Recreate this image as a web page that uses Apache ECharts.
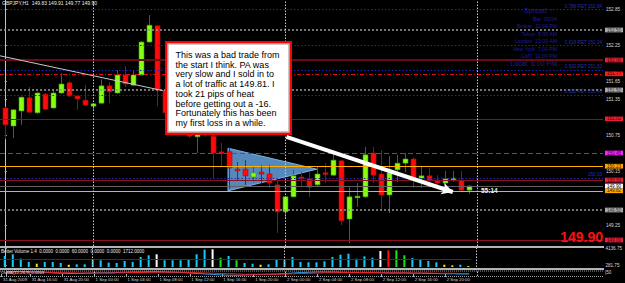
<!DOCTYPE html>
<html><head><meta charset="utf-8">
<script src="https://cdn.jsdelivr.net/npm/echarts@6/dist/echarts.min.js"></script>
<style>html,body{margin:0;padding:0;background:#000;}#c{width:625px;height:283px;}</style>
</head><body><div id="c"></div>
<script>
// ---------------- DATA ----------------
const header = 'GBPJPY,H1  149.83 149.91 149.77 149.90';
// hourly bars starting 31 Aug 2009 13:00 (index 0)
const opens  = [151.20,150.90,151.15,151.37,151.12,151.43,151.20,151.45,151.62,151.40,151.33,151.23,151.28,151.57,151.45,151.75,151.58,151.75,152.30,152.57,151.50,151.12,150.95,151.05,150.72,150.85,150.73,150.47,150.47,150.18,150.18,150.05,150.13,150.10,149.92,149.47,149.72,150.05,150.02,149.92,150.12,150.08,150.32,149.35,149.71,149.72,150.45,150.10,149.75,150.17,150.28,150.35,150.03,150.07,150.00,149.95,150.02,150.00,149.83];
const highs  = [151.22,151.18,151.39,151.55,151.46,151.45,151.52,151.78,151.65,151.41,151.58,151.28,151.68,151.63,151.83,151.90,151.82,152.31,152.75,152.58,151.52,151.18,151.10,151.08,150.88,150.90,150.76,150.62,150.53,150.30,150.33,150.22,150.25,150.25,150.00,149.73,150.17,150.13,150.13,150.22,150.28,150.45,150.33,149.88,149.95,150.55,150.55,150.50,150.40,150.42,150.45,150.38,150.22,150.20,150.08,150.15,150.15,150.15,149.91];
const lows   = [150.68,150.70,150.92,151.12,151.10,151.17,151.19,151.44,151.38,151.17,151.24,151.17,151.27,151.28,151.44,151.55,151.57,151.74,152.29,151.23,151.05,150.90,150.85,150.70,150.45,150.72,150.03,150.22,149.85,150.00,149.92,149.97,149.95,149.87,149.12,149.37,149.71,149.88,149.72,149.90,149.95,150.07,149.25,148.95,149.55,149.70,149.95,149.50,149.45,149.97,150.13,149.87,149.87,149.87,149.87,149.93,149.97,149.82,149.77];
const closes = [150.92,151.17,151.38,151.13,151.45,151.18,151.45,151.60,151.40,151.35,151.25,151.27,151.57,151.47,151.75,151.60,151.75,152.30,152.58,151.50,151.12,150.95,151.05,150.73,150.85,150.76,150.45,150.44,150.20,150.17,150.07,150.12,150.10,149.95,149.47,149.72,150.07,150.03,149.88,150.10,150.10,150.33,149.32,149.72,149.73,150.42,150.08,149.75,150.12,150.28,150.35,150.00,150.07,150.00,149.95,150.02,150.03,149.83,149.90];
const volumes = [2400,2770,1830,1090,720,1090,1090,870,500,590,590,1590,1460,940,870,1310,1090,2180,2550,2770,1460,1460,1460,1590,2770,3770,3860,2030,2400,1460,870,720,500,590,1590,1460,2180,1090,1020,1020,1240,2180,2680,2900,1810,2330,2030,3490,3640,3640,2550,1960,1590,1310,1020,500,370,500,220];
// Better Volume bar classes: n normal, l low, c climax, r climax-down, h churn
const volClass = ['n','n','n','n','l','n','n','n','l','n','n','n','n','n','n','n','n','n','n','c','n','n','n','n','n','n','c','h','n','h','n','n','l','n','n','n','n','n','n','n','n','n','n','n','n','n','n','c','r','h','h','n','n','n','n','l','l','n','l'];
const volAverage = 1712;
const volumeTitle = 'Better Volume 1.4  0.0000  0.0000  60.0000  0.0000  0.0000  1712.0000';
const volumeTicks = [4136.75, 281.75];
const osmaMain   = [0.10,0.10,0.10,0.09,0.08,0.06,0.04,0.03,0.02,0.02,0.03,0.04,0.05,0.05,0.06,0.07,0.08,0.08,0.09,0.09,0.08,0.07,0.06,0.04,0.02,0.00,-0.02,-0.04,-0.05,-0.05,-0.04,-0.03,-0.02,-0.01,0.00,0.02,0.04,0.06,0.07,0.08,0.08,0.08,0.07,0.06,0.06,0.05,0.05,0.05,0.04,0.04,0.04,0.03,0.03,0.02,0.02,0.01,0.01,0.00,0.00];
const osmaSignal = [0.08,0.08,0.08,0.08,0.08,0.07,0.06,0.05,0.05,0.04,0.04,0.04,0.04,0.04,0.05,0.05,0.06,0.06,0.07,0.07,0.07,0.07,0.07,0.06,0.05,0.04,0.03,0.02,0.01,0.00,-0.01,-0.01,-0.01,-0.01,-0.01,0.00,0.01,0.02,0.03,0.04,0.05,0.05,0.06,0.06,0.06,0.06,0.06,0.05,0.05,0.05,0.05,0.04,0.04,0.04,0.03,0.03,0.03,0.02,0.02];
const osmaTitle = 'OsMA(12,26,9) 0.0201';
const osmaTicks = [0.05];
// price-scale labels that are not hidden behind a level box
const priceTicks = [152.85,152.25,151.65,151.35,150.75,150.15,149.25];
const timeTickIdx  = [-0.6,3,7,11,15,19,23,27,31,35,39,43,47,51,55];
const timeTickText = ['31 Aug 2009','31 Aug 16:00','31 Aug 20:00','1 Sep 00:00','1 Sep 04:00','1 Sep 08:00','1 Sep 12:00','1 Sep 16:00','1 Sep 20:00','2 Sep 00:00','2 Sep 04:00','2 Sep 08:00','2 Sep 12:00','2 Sep 16:00','2 Sep 20:00'];
const daySeparators = [11,35,59];
// levels
const fibPrices = [152.84,152.24,151.83,151.42];
const fibNames  = ['0.786 RET 152.84','0.618 RET 152.24','0.500 RET 151.83','0.382 RET 151.42'];
const extraBluePrice = 150.03;
const grayLevels   = [152.50,151.50,149.50];
const redLevels    = [152.00,151.02,150.00,149.00];
const dailyH1      = 151.77;
const dailyPivot   = 150.45;
const orangeLevels = [150.23,149.82];
const bidPrice     = 149.90;
const trendLine    = [[-0.6,152.07],[19.75,151.49]];
const arrowLine    = [[35.2,150.72],[56.0,149.80]];
const triangle     = [[27.9,150.53],[27.9,149.82],[39.0,150.18]];
const barTimer = '55:14';
const noteLines = ['This was a bad trade from','the start I think. PA was','very slow and I sold in to','a lot of traffic at 149.81. I','took 21 pips of heat','before getting out a -16.','Fortunately this has been','my first loss in a while.'];
const infoRows = [['Bar','00:04'],['Broker','11:04 PM'],['Tokyo','8:00 AM'],['London','12:00 AM'],['New York','7:00 PM'],['GMT','11:00 PM']];
const infoSpread = ['Spread','7'];
const infoLocal = ['Local','6:00 PM'];

// ---------------- CHART ----------------
const XMIN = -0.6, XMAX = -0.6 + 603/8;
const FONT = 'Liberation Sans, Arial, sans-serif';
const volColors = {n:'#1ec8f5', l:'#f0e020', c:'#ffffff', r:'#ff1010', h:'#20e020'};
const candleData = opens.map((o,i)=>[i,o,closes[i],lows[i],highs[i]]);
const boxLabel = (bg, fg) => ({show:true, position:'end', distance:2, formatter: p=>p.value.toFixed(2),
  backgroundColor:bg, color:fg, fontSize:4.6, lineHeight:4.7, fontFamily:FONT, padding:[0,2,0,2]});

const markData = [];
fibPrices.forEach((p,i)=>markData.push({yAxis:p, lineStyle:{color:'#1a2ab8', type:[1.5,2], width:1},
  label:{show:true, position:'insideEndTop', distance:1, formatter:fibNames[i], color:'#2030b0', fontSize:4.6, fontFamily:FONT}}));
markData.push({yAxis:extraBluePrice, lineStyle:{color:'#2a2ab0', type:[1.5,2], width:1},
  label:{show:true, position:'insideEndTop', distance:1, formatter:extraBluePrice.toFixed(2), color:'#2030c0', fontSize:4.6, fontFamily:FONT}});
grayLevels.forEach(p=>markData.push({yAxis:p, lineStyle:{color:'#9a9a9a', type:[2,2], width:1.5}, label:boxLabel('#a8a8a8','#333')}));
redLevels.forEach((p,i)=>markData.push({yAxis:p, lineStyle:{color: i===0?'#6e0a14':'#8a1020', type:'solid', width: i===0?2:1}, label:boxLabel('#e8203a','#400')}));
markData.push({yAxis:dailyH1, lineStyle:{color:'#e01010', type:[4,2,1,2], width:1}, label:boxLabel('#ff1a1a','#400')});
markData.push({yAxis:dailyH1, lineStyle:{opacity:0}, label:{show:true, position:'insideMiddleBottom', distance:1, formatter:'Daily H1', color:'#d01010', fontSize:4.6, fontFamily:FONT, offset:[6,0]}});
markData.push({yAxis:dailyPivot, lineStyle:{color:'#a020b0', type:[5,3], width:1}, label:boxLabel('#ff20ff','#400040')});
markData.push({yAxis:dailyPivot, lineStyle:{opacity:0}, label:{show:true, position:'insideMiddleBottom', distance:0, formatter:'Daily Pivot', color:'#b020c0', fontSize:4.6, fontFamily:FONT, offset:[6,0]}});
orangeLevels.forEach(p=>markData.push({yAxis:p, lineStyle:{color:'#ffb000', type:'solid', width:1}, label:boxLabel('#ffa500','#402000')}));
markData.push({yAxis:bidPrice, lineStyle:{color:'#606060', type:'solid', width:1}, label:boxLabel('#ffffff','#000')});
daySeparators.forEach(x=>markData.push({xAxis:x, lineStyle:{color:'#c8c8c8', type:[1.5,1.5], width:1}, label:{show:false}}));
markData.push([{coord:trendLine[0], symbol:'none', lineStyle:{color:'#c8c8c8', width:1, type:'solid'}, label:{show:false}},{coord:trendLine[1], symbol:'none'}]);

const option = {
  backgroundColor:'#000',
  animation:false,
  grid:[
    {left:0, top:0, width:603, height:246},
    {left:0, top:248, width:603, height:19},
    {left:0, top:271, width:603, height:5}
  ],
  xAxis:[0,1,2].map(g=>({type:'value', gridIndex:g, min:XMIN, max:XMAX, show: g===2,
    axisLine:{show:false}, splitLine:{show:false},
    axisTick:{show:g===2, customValues:timeTickIdx, length:3, lineStyle:{color:'#b0b0b0'}},
    axisLabel:{show:g===2, customValues:timeTickIdx, formatter:v=>{const k=timeTickIdx.indexOf(v);return k<0?'':timeTickText[k];},
      color:'#d0d0d0', fontSize:4.3, fontFamily:FONT, align:'left', margin:1.5, padding:[0,0,0,1.5]}})),
  yAxis:[
    {type:'value', gridIndex:0, position:'right', min:148.90, max:153.00, splitLine:{show:false},
      axisLine:{show:true, lineStyle:{color:'#c0c0c0', width:1}},
      axisTick:{show:true, customValues:priceTicks, length:2, lineStyle:{color:'#c0c0c0'}},
      axisLabel:{customValues:priceTicks, formatter:v=>v.toFixed(2), color:'#d8d8d8', fontSize:4.6, lineHeight:4.7, fontFamily:FONT, margin:3}},
    {type:'value', gridIndex:1, position:'right', min:0, max:4136.75, splitLine:{show:false},
      axisLine:{show:true, lineStyle:{color:'#c0c0c0', width:1}},
      axisTick:{show:true, customValues:volumeTicks, length:2, lineStyle:{color:'#c0c0c0'}},
      axisLabel:{customValues:volumeTicks, formatter:v=>v.toFixed(2), color:'#d8d8d8', fontSize:4.6, lineHeight:4.7, fontFamily:FONT, margin:3}},
    {type:'value', gridIndex:2, position:'right', min:-0.08, max:0.12, splitLine:{show:false},
      axisLine:{show:true, lineStyle:{color:'#c0c0c0', width:1}},
      axisTick:{show:false},
      axisLabel:{customValues:osmaTicks, formatter:()=>'|50', color:'#d8d8d8', fontSize:4.6, lineHeight:4.7, fontFamily:FONT, margin:2}}
  ],
  series:[
    {type:'custom', name:'triangle', xAxisIndex:0, yAxisIndex:0, z:1, silent:true,
      data:[0], renderItem:(params, api)=>({type:'polygon', shape:{points: triangle.map(p=>api.coord(p))},
        style:{fill:'rgba(100,160,220,0.85)', stroke:'#7ab0e0', lineWidth:1}})},
    {type:'custom', name:'candles', xAxisIndex:0, yAxisIndex:0, z:3,
      data:candleData, encode:{x:0, y:[1,2,3,4]},
      renderItem:(params, api)=>{
        const i=api.value(0), o=api.value(1), c=api.value(2), l=api.value(3), h=api.value(4);
        const pO=api.coord([i,o]), pC=api.coord([i,c]), pL=api.coord([i,l]), pH=api.coord([i,h]);
        const up = c>=o, cx=Math.round(pO[0])+0.5;
        const top=Math.min(pO[1],pC[1]), bot=Math.max(pO[1],pC[1]);
        return {type:'group', children:[
          {type:'line', shape:{x1:cx, y1:pH[1], x2:cx, y2:pL[1]}, style:{stroke: up?'#1f7a10':'#a00c0c', lineWidth:1}},
          {type:'rect', shape:{x:cx-2.5, y:top, width:5, height:Math.max(bot-top,1.6)}, style:{fill: up?'#86ff10':'#ff0a0a', stroke: up?'#3a9a00':'#c00000', lineWidth:0.6}}
        ]};
      },
      markLine:{silent:true, symbol:'none', animation:false, data:markData}
    },
    {type:'line', name:'arrow', xAxisIndex:0, yAxisIndex:0, z:6, data:[], silent:true,
      markLine:{silent:true, symbol:['none','arrow'], symbolSize:[9,11], animation:false,
        data:[[{coord:arrowLine[0], lineStyle:{color:'#ffffff', width:4, type:'solid'}, label:{show:false}},{coord:arrowLine[1]}]]}},
    {type:'bar', name:'volume', xAxisIndex:1, yAxisIndex:1, barWidth:2, data:volumes.map((v,i)=>[i,v]),
      itemStyle:{color:p=>volColors[volClass[p.dataIndex]]},
      markLine:{silent:true, symbol:'none', animation:false, data:[
        [{coord:[XMIN,volAverage], lineStyle:{color:'#8a0f0f', width:1, type:'solid'}, label:{show:false}},{coord:[58.3,volAverage]}],
        ...daySeparators.map(x=>({xAxis:x, lineStyle:{color:'#c8c8c8', type:[1.5,1.5], width:1}, label:{show:false}}))]}},
    {type:'line', name:'osma', xAxisIndex:2, yAxisIndex:2, data:osmaMain.map((v,i)=>[i,v]), symbol:'none', lineStyle:{color:'#2a9ef0', width:1},
      markLine:{silent:true, symbol:'none', animation:false, data:daySeparators.map(x=>({xAxis:x, lineStyle:{color:'#c8c8c8', type:[1.5,1.5], width:1}, label:{show:false}}))}},
    {type:'line', name:'signal', xAxisIndex:2, yAxisIndex:2, data:osmaSignal.map((v,i)=>[i,v]), symbol:'none', lineStyle:{color:'#f02020', width:1}}
  ],
  graphic:[
    {type:'rect', shape:{x:0, y:246, width:604, height:2}, style:{fill:'#b4b4b4'}, z:50},
    {type:'rect', shape:{x:0, y:268, width:604, height:2}, style:{fill:'#b4b4b4'}, z:50},
    {type:'line', shape:{x1:0, y1:271, x2:603, y2:271}, style:{stroke:'#a0a0a0', lineDash:[1,1], lineWidth:1}, z:50},
    {type:'line', shape:{x1:0, y1:276.5, x2:603, y2:276.5}, style:{stroke:'#a0a0a0', lineDash:[1,1], lineWidth:1}, z:50},
    {type:'text', left:2, top:0.5, style:{text:header, fill:'#e8e8e8', fontSize:5, fontFamily:FONT}, z:60},
    {type:'text', left:1, top:248.5, style:{text:volumeTitle, fill:'#e8e8e8', fontSize:4.5, fontFamily:FONT}, z:60},
    {type:'text', left:1, top:270.5, style:{text:osmaTitle, fill:'#e8e8e8', fontSize:4.3, fontFamily:FONT}, z:60},
    // info panel
    {type:'text', x:524, y:7, style:{text:infoSpread[0], fill:'#1c1ca0', fontSize:7, fontFamily:FONT}, z:60},
    {type:'text', x:550, y:8.5, style:{text:infoSpread[1], fill:'#1c1ca0', fontSize:5, fontFamily:FONT}, z:60},
    ...infoRows.map((r,k)=>({type:'text', x:557, y:16+k*7.5, style:{text:r[0]+'  '+r[1], fill:'#1c1ca0', fontSize:5.2, fontFamily:FONT, align:'right'}, z:60})),
    {type:'text', x:557, y:59.5, style:{text:infoLocal[0]+'  '+infoLocal[1], fill:'#1c1ca0', fontSize:7, fontFamily:FONT, align:'right'}, z:60},
    // note box
    {type:'rect', shape:{x:165, y:41, width:127, height:94}, style:{fill:'#ff0000'}, z:70},
    {type:'rect', shape:{x:168, y:44, width:121, height:88}, style:{fill:'#ffffff', stroke:'#b8b8b8', lineWidth:1.5}, z:71},
    ...noteLines.map((t,k)=>({type:'text', x:175.5, y:50.5+k*9.7, style:{text:t, fill:'#000', fontSize:9, fontFamily:FONT}, z:72})),
    {type:'text', x:481, y:187, style:{text:barTimer, fill:'#f0f0f0', fontSize:6.5, fontWeight:'bold', fontFamily:FONT}, z:60},
    {type:'text', x:603, y:230, style:{text:bidPrice.toFixed(2), fill:'#ff1010', fontSize:14, fontWeight:'bold', fontFamily:FONT, align:'right'}, z:60}
  ]
};
const chart = echarts.init(document.getElementById('c'), null, {renderer:'svg', width:625, height:283});
chart.setOption(option);
</script></body></html>
